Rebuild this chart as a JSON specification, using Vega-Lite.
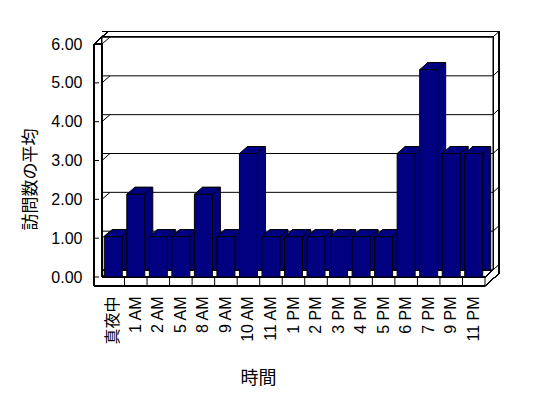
{
  "$schema": "https://vega.github.io/schema/vega-lite/v6.json",
  "width": 383,
  "height": 233,
  "autosize": "none",
  "padding": {"left": 102, "top": 44, "right": 63, "bottom": 121},
  "background": "white",
  "datasets": {
    "visits": [
      {"time": "真夜中", "avg": 1.04},
      {"time": "1 AM", "avg": 2.13},
      {"time": "2 AM", "avg": 1.04},
      {"time": "5 AM", "avg": 1.04},
      {"time": "8 AM", "avg": 2.13},
      {"time": "9 AM", "avg": 1.04},
      {"time": "10 AM", "avg": 3.18},
      {"time": "11 AM", "avg": 1.04},
      {"time": "1 PM", "avg": 1.04},
      {"time": "2 PM", "avg": 1.04},
      {"time": "3 PM", "avg": 1.04},
      {"time": "4 PM", "avg": 1.04},
      {"time": "5 PM", "avg": 1.04},
      {"time": "6 PM", "avg": 3.18},
      {"time": "7 PM", "avg": 5.34},
      {"time": "9 PM", "avg": 3.18},
      {"time": "11 PM", "avg": 3.18}
    ],
    "ticks": [{"v": 0}, {"v": 1}, {"v": 2}, {"v": 3}, {"v": 4}, {"v": 5}, {"v": 6}]
  },
  "data": {"name": "visits"},
  "layer": [
    {
      "mark": {"type": "rect", "fill": "white", "stroke": "black", "strokeWidth": 1, "xOffset": 8, "x2Offset": 8, "yOffset": -7, "y2Offset": -7},
      "encoding": {
        "y": {
          "datum": 0, "type": "quantitative", "title": "訪問数の平均",
          "scale": {"domain": [0, 6], "nice": false},
          "axis": {"values": [0, 1, 2, 3, 4, 5, 6], "tickCount": 7, "labelOverlap": false, "format": ".2f", "labelPadding": 20, "titleX": -72, "titleY": 135, "titleBaseline": "middle", "titleAlign": "center", "titleFontSize": 17}
        },
        "y2": {"datum": 6}
      }
    },
    {
      "data": {"name": "ticks"},
      "mark": {"type": "rule", "stroke": "black", "strokeWidth": 1, "xOffset": 8, "x2Offset": 8, "yOffset": -7, "y2Offset": -7},
      "encoding": {"y": {"field": "v", "type": "quantitative", "title": "訪問数の平均"}}
    },
    {
      "mark": {"type": "rule", "stroke": "black", "strokeWidth": 1, "xOffset": 14, "x2Offset": 14, "yOffset": -12.5, "y2Offset": -12.5},
      "encoding": {"y": {"datum": 6, "type": "quantitative", "title": "訪問数の平均"}}
    },
    {
      "mark": {"type": "bar", "width": 18, "fill": "#000080", "stroke": "black", "strokeWidth": 1, "xOffset": 8, "x2Offset": 8, "yOffset": -7, "y2Offset": -7},
      "encoding": {
        "x": {
          "field": "time", "type": "nominal", "sort": null, "title": "時間",
          "scale": {"domain": ["真夜中", "1 AM", "2 AM", "5 AM", "8 AM", "9 AM", "10 AM", "11 AM", "1 PM", "2 PM", "3 PM", "4 PM", "5 PM", "6 PM", "7 PM", "9 PM", "11 PM"], "paddingInner": 0, "paddingOuter": 0},
          "axis": {"labelAngle": -90, "labelPadding": 19, "titleX": 156, "titleY": 101, "titleBaseline": "middle", "titleFontSize": 18}
        },
        "y": {"field": "avg", "type": "quantitative", "title": "訪問数の平均"}
      }
    },
    {
      "mark": {"type": "rule", "stroke": "black", "strokeWidth": 1, "xOffset": 14, "x2Offset": 14, "yOffset": -12.5, "y2Offset": -12.5},
      "encoding": {
        "x": {"datum": "11 PM", "type": "nominal", "bandPosition": 1, "title": "時間"},
        "y": {"datum": 6, "type": "quantitative", "title": "訪問数の平均"},
        "y2": {"datum": -0.23}
      }
    },
    {
      "mark": {"type": "rule", "stroke": "black", "strokeWidth": 1, "xOffset": -8, "x2Offset": -8},
      "encoding": {
        "x": {"datum": "真夜中", "type": "nominal", "bandPosition": 0, "title": "時間"},
        "y": {"datum": 6, "type": "quantitative", "title": "訪問数の平均"},
        "y2": {"datum": -0.23}
      }
    },
    {
      "mark": {"type": "rule", "stroke": "black", "strokeWidth": 1},
      "encoding": {
        "x": {"datum": "真夜中", "type": "nominal", "bandPosition": 0, "title": "時間"},
        "y": {"datum": 6, "type": "quantitative", "title": "訪問数の平均"},
        "y2": {"datum": 0}
      }
    },
    {
      "mark": {"type": "rule", "stroke": "black", "strokeWidth": 1},
      "encoding": {"y": {"datum": 0, "type": "quantitative", "title": "訪問数の平均"}}
    },
    {
      "mark": {"type": "rule", "stroke": "black", "strokeWidth": 1},
      "encoding": {"y": {"datum": -0.23, "type": "quantitative", "title": "訪問数の平均"}}
    },
    {
      "mark": {"type": "rule", "stroke": "black", "strokeWidth": 1},
      "encoding": {
        "x": {"field": "time", "type": "nominal", "sort": null, "bandPosition": 1, "title": "時間"},
        "y": {"datum": 0, "type": "quantitative", "title": "訪問数の平均"},
        "y2": {"datum": -0.23}
      }
    },
    {
      "data": {"name": "ticks"},
      "mark": {"type": "point", "filled": false, "stroke": "black", "strokeWidth": 1, "opacity": 1, "size": 4, "shape": "M-8,0 L-3,0 M0,0 L8,-7"},
      "encoding": {
        "x": {"datum": "真夜中", "type": "nominal", "bandPosition": 0, "title": "時間"},
        "y": {"field": "v", "type": "quantitative", "title": "訪問数の平均"}
      }
    },
    {
      "data": {"name": "ticks"},
      "mark": {"type": "point", "filled": false, "stroke": "black", "strokeWidth": 1, "opacity": 1, "size": 4, "shape": "M8,-7 L14,-12.5"},
      "encoding": {
        "x": {"datum": "11 PM", "type": "nominal", "bandPosition": 1, "title": "時間"},
        "y": {"field": "v", "type": "quantitative", "title": "訪問数の平均"}
      }
    },
    {
      "mark": {"type": "point", "filled": false, "stroke": "black", "strokeWidth": 1, "opacity": 1, "size": 4, "shape": "M-8,0 L0,0 M-8,0 L6,-12.5 L14,-12.5"},
      "encoding": {
        "x": {"datum": "真夜中", "type": "nominal", "bandPosition": 0, "title": "時間"},
        "y": {"datum": 6, "type": "quantitative", "title": "訪問数の平均"}
      }
    },
    {
      "mark": {"type": "point", "filled": false, "stroke": "black", "strokeWidth": 1, "opacity": 1, "size": 4, "shape": "M-8,9 L0,9"},
      "encoding": {
        "x": {"datum": "真夜中", "type": "nominal", "bandPosition": 0, "title": "時間"},
        "y": {"datum": 0, "type": "quantitative", "title": "訪問数の平均"}
      }
    },
    {
      "mark": {"type": "point", "filled": false, "stroke": "black", "strokeWidth": 1, "opacity": 1, "size": 4, "shape": "M0,0 L8,-7 M0,9 L14,-3.5"},
      "encoding": {
        "x": {"datum": "11 PM", "type": "nominal", "bandPosition": 1, "title": "時間"},
        "y": {"datum": 0, "type": "quantitative", "title": "訪問数の平均"}
      }
    },
    {
      "mark": {"type": "point", "filled": true, "fill": "#000080", "stroke": "black", "strokeWidth": 1, "opacity": 1, "size": 4, "shape": "M-9,0 L9,0 L17,-7 L-1,-7 Z"},
      "encoding": {
        "x": {"field": "time", "type": "nominal", "sort": null, "title": "時間"},
        "y": {"field": "avg", "type": "quantitative", "title": "訪問数の平均"}
      }
    },
    {
      "mark": {"type": "bar", "width": 18, "fill": "#000080", "stroke": "black", "strokeWidth": 1},
      "encoding": {
        "x": {"field": "time", "type": "nominal", "sort": null, "title": "時間"},
        "y": {"field": "avg", "type": "quantitative", "title": "訪問数の平均"}
      }
    }
  ],
  "config": {
    "view": {"stroke": null},
    "axis": {
      "domain": false,
      "ticks": false,
      "grid": false,
      "labelOverlap": false,
      "labelFont": "Liberation Sans, Noto Sans CJK JP",
      "labelFontSize": 16,
      "labelColor": "black",
      "titleFont": "Noto Sans CJK JP",
      "titleFontWeight": "normal",
      "titleColor": "black"
    }
  }
}
